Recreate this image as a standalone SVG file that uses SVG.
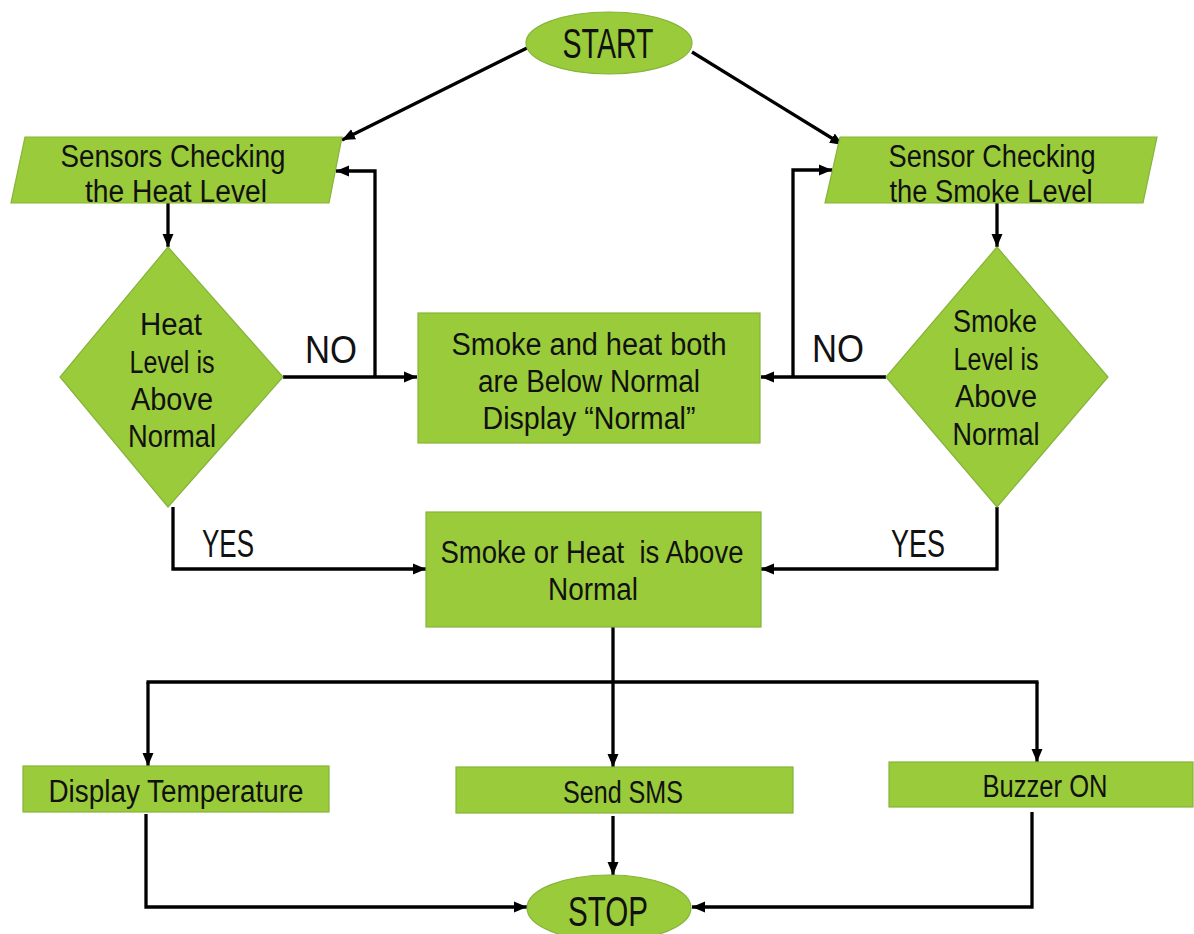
<svg xmlns="http://www.w3.org/2000/svg" width="1194" height="934" viewBox="0 0 1194 934">
  <defs>
    <marker id="arrow" markerUnits="userSpaceOnUse" markerWidth="14" markerHeight="14" viewBox="0 0 14 14" refX="13" refY="7" orient="auto">
      <path d="M0,1.5 L13,7 L0,12.5 Z" fill="#000"/>
    </marker>
    <style>
      .shape { fill: #9acb3a; stroke: #86b33a; stroke-width: 1.2; }
      .t { font-family: "Liberation Sans", Arial, sans-serif; font-size: 31px; fill: #111; text-anchor: middle; white-space: pre; }
      .big { font-size: 42px; }
      .lbl { font-family: "Liberation Sans", Arial, sans-serif; font-size: 38px; fill: #111; }
      .wire { fill: none; stroke: #000; stroke-width: 3.3; }
      .arr { marker-end: url(#arrow); }
    </style>
  </defs>
  <rect width="1194" height="934" fill="#fff"/>

  <!-- connectors -->
  <g id="connectors">
    <path class="wire arr" d="M527,48 L342,140"/>
    <path class="wire arr" d="M692,52 L843,145"/>
    <path class="wire arr" d="M168,203 V247"/>
    <path class="wire arr" d="M997,203 V247"/>
    <path class="wire arr" d="M283,377 H417"/>
    <path class="wire arr" d="M375,377 V171 H336"/>
    <path class="wire arr" d="M886,377 H761"/>
    <path class="wire arr" d="M793,377 V170 H832"/>
    <path class="wire arr" d="M173,507 V569 H426"/>
    <path class="wire arr" d="M997,507 V569 H761"/>
    <path class="wire" d="M613,627 V682"/>
    <path class="wire" d="M146.5,682 H1038.5"/>
    <path class="wire arr" d="M148,682 V766"/>
    <path class="wire arr" d="M613,682 V767"/>
    <path class="wire arr" d="M1037,682 V762"/>
    <path class="wire arr" d="M146,814 V907 H527"/>
    <path class="wire arr" d="M613,816 V875"/>
    <path class="wire arr" d="M1032,812 V907 H692"/>
    <text class="lbl" x="305" y="363" textLength="52" lengthAdjust="spacingAndGlyphs">NO</text>
    <text class="lbl" x="812" y="362" textLength="52" lengthAdjust="spacingAndGlyphs">NO</text>
    <text class="lbl" x="202" y="557" textLength="52" lengthAdjust="spacingAndGlyphs">YES</text>
    <text class="lbl" x="891" y="557" textLength="54" lengthAdjust="spacingAndGlyphs">YES</text>
  </g>

  <g id="start">
    <ellipse class="shape" cx="609" cy="43" rx="83" ry="31"/>
    <text class="t big" x="608" y="58" textLength="91" lengthAdjust="spacingAndGlyphs">START</text>
  </g>

  <g id="heat-sensor">
    <polygon class="shape" points="25,137 342,137 329,203 11,203"/>
    <text class="t" x="173" y="167" textLength="225" lengthAdjust="spacingAndGlyphs">Sensors Checking</text>
    <text class="t" x="176" y="202" textLength="182" lengthAdjust="spacingAndGlyphs">the Heat Level</text>
  </g>

  <g id="smoke-sensor">
    <polygon class="shape" points="840,137 1157,137 1143,203 825,203"/>
    <text class="t" x="992" y="167" textLength="207" lengthAdjust="spacingAndGlyphs">Sensor Checking</text>
    <text class="t" x="991" y="202" textLength="203" lengthAdjust="spacingAndGlyphs">the Smoke Level</text>
  </g>

  <g id="heat-check">
    <polygon class="shape" points="168,247 283,377 168,507 60,377"/>
    <text class="t" x="171" y="335" textLength="62" lengthAdjust="spacingAndGlyphs">Heat</text>
    <text class="t" x="172" y="373" textLength="85" lengthAdjust="spacingAndGlyphs">Level is</text>
    <text class="t" x="172" y="410" textLength="82" lengthAdjust="spacingAndGlyphs">Above</text>
    <text class="t" x="172" y="447" textLength="88" lengthAdjust="spacingAndGlyphs">Normal</text>
  </g>

  <g id="smoke-check">
    <polygon class="shape" points="997,247 1108,377 997,507 886,377"/>
    <text class="t" x="995" y="332" textLength="84" lengthAdjust="spacingAndGlyphs">Smoke</text>
    <text class="t" x="996" y="370" textLength="85" lengthAdjust="spacingAndGlyphs">Level is</text>
    <text class="t" x="996" y="407" textLength="82" lengthAdjust="spacingAndGlyphs">Above</text>
    <text class="t" x="996" y="445" textLength="87" lengthAdjust="spacingAndGlyphs">Normal</text>
  </g>

  <g id="normal">
    <rect class="shape" x="418" y="313" width="342" height="130"/>
    <text class="t" x="589" y="355" textLength="275" lengthAdjust="spacingAndGlyphs">Smoke and heat both</text>
    <text class="t" x="589" y="392" textLength="222" lengthAdjust="spacingAndGlyphs">are Below Normal</text>
    <text class="t" x="589" y="429" textLength="213" lengthAdjust="spacingAndGlyphs">Display “Normal”</text>
  </g>

  <g id="alert">
    <rect class="shape" x="426" y="512" width="335" height="115"/>
    <text class="t" x="592" y="563" textLength="303" lengthAdjust="spacingAndGlyphs">Smoke or Heat  is Above</text>
    <text class="t" x="593" y="600" textLength="90" lengthAdjust="spacingAndGlyphs">Normal</text>
  </g>

  <g id="display-temp">
    <rect class="shape" x="23" y="766" width="306" height="46"/>
    <text class="t" x="176" y="802" textLength="255" lengthAdjust="spacingAndGlyphs">Display Temperature</text>
  </g>

  <g id="send-sms">
    <rect class="shape" x="456" y="767" width="337" height="46"/>
    <text class="t" x="623" y="803" textLength="120" lengthAdjust="spacingAndGlyphs">Send SMS</text>
  </g>

  <g id="buzzer">
    <rect class="shape" x="889" y="762" width="304" height="45"/>
    <text class="t" x="1045" y="797" textLength="125" lengthAdjust="spacingAndGlyphs">Buzzer ON</text>
  </g>

  <g id="stop">
    <ellipse class="shape" cx="609" cy="908" rx="82" ry="33"/>
    <text class="t big" x="608" y="926" textLength="80" lengthAdjust="spacingAndGlyphs">STOP</text>
  </g>
</svg>
